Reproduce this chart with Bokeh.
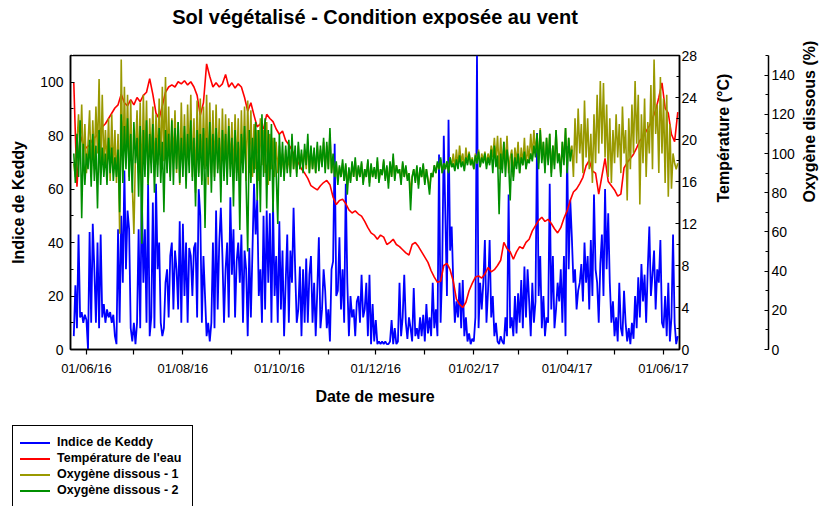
import math
from datetime import datetime
import pandas as pd
from bokeh.plotting import figure
from bokeh.layouts import column
from bokeh.models import (Range1d, LinearAxis, SingleIntervalTicker, FixedTicker,
                          DatetimeTickFormatter, Div)
from bokeh.embed import file_html
from bokeh.resources import INLINE

FONT = "Liberation Sans"

# ---------------- data ----------------
start_date = "2016-05-24"

# Indice de Keddy, daily
keddy = [
    5, 24, 8, 43, 12, 14, 10, 13, 11, 0,
    44, 10, 47, 30, 10, 40, 8, 43, 12, 17,
    10, 15, 12, 14, 10, 13, 5, 2, 45, 10,
    50, 25, 67, 30, 52, 45, 8, 3, 10, 2,
    10, 45, 8, 60, 25, 45, 10, 62, 5, 12,
    55, 8, 62, 30, 40, 10, 5, 8, 25, 30,
    12, 35, 40, 15, 37, 30, 15, 48, 10, 47,
    20, 40, 10, 38, 35, 20, 38, 40, 12, 60,
    50, 10, 35, 20, 5, 10, 3, 10, 40, 8,
    52, 15, 40, 53, 35, 10, 30, 40, 12, 57,
    28, 45, 12, 33, 40, 25, 43, 10, 37, 30,
    5, 38, 12, 37, 62, 43, 56, 20, 30, 10,
    50, 15, 52, 25, 51, 10, 55, 20, 35, 10,
    48, 15, 37, 5, 25, 43, 10, 37, 25, 53,
    30, 10, 15, 31, 5, 30, 10, 34, 10, 28,
    35, 10, 25, 5, 22, 42, 8, 15, 30, 22,
    8, 15, 3, 30, 33, 77, 20, 22, 42, 15,
    30, 10, 62, 25, 5, 20, 12, 15, 5, 18,
    20, 10, 28, 12, 15, 25, 5, 28, 2, 17,
    3, 11, 2, 3, 2, 3, 2, 3, 2, 2,
    3, 11, 2, 8, 2, 3, 25, 5, 12, 28,
    10, 4, 12, 8, 3, 23, 5, 8, 4, 12,
    5, 13, 3, 17, 6, 12, 5, 25, 8, 15,
    5, 73, 10, 30, 80, 50, 20, 86, 37, 46,
    25, 10, 18, 12, 25, 8, 26, 5, 12, 3,
    6, 2, 4, 3, 12, 110, 8, 25, 15, 25,
    41, 10, 22, 41, 12, 20, 5, 10, 3, 2,
    5, 3, 2, 12, 5, 58, 8, 12, 5, 20,
    6, 21, 10, 26, 8, 31, 12, 30, 18, 5,
    25, 10, 18, 81, 20, 35, 8, 20, 5, 12,
    10, 62, 15, 35, 8, 15, 25, 18, 30, 10,
    35, 5, 76, 30, 56, 42, 25, 30, 15, 22,
    25, 32, 18, 40, 25, 35, 15, 41, 20, 58,
    30, 25, 10, 32, 43, 20, 60, 30, 51, 25,
    10, 18, 5, 12, 3, 25, 8, 5, 22, 10,
    3, 8, 2, 10, 4, 20, 8, 27, 12, 32,
    18, 28, 10, 30, 46, 20, 28, 37, 15, 30,
    25, 41, 10, 8, 20, 5, 25, 3, 12, 43,
    10, 2, 5,
]

# Température de l'eau (°C), every 2 days
temperature = [
    25.4, 15.5, 20.5, 19.5, 19.2, 19.5, 20.0, 20.3, 20.8, 21.2,
    21.5, 22.0, 22.5, 23.0, 23.3, 24.3, 23.5, 23.2, 23.8, 23.3,
    24.0, 23.6, 24.2, 24.5, 25.8, 24.3, 22.5, 22.0, 23.2, 24.5,
    25.0, 25.2, 25.0, 25.5, 25.3, 25.6, 25.2, 25.5, 25.0, 24.2,
    22.3, 23.5, 27.2, 26.0, 25.0, 25.4, 25.0, 25.3, 26.2, 25.0,
    25.4, 24.9, 25.3, 25.0, 24.0, 22.7, 23.5, 22.3, 21.2, 21.5,
    21.0, 22.4, 22.0, 21.7, 21.0, 20.5, 20.8, 19.9, 19.5, 19.0,
    18.3, 17.8, 17.2, 16.8, 16.3, 15.6, 15.4, 15.2, 15.6, 15.9,
    16.1, 15.7, 14.5, 13.8, 14.2, 14.3, 13.9, 13.3, 13.0, 13.2,
    12.9, 12.7, 12.2, 11.6, 11.1, 10.9, 10.5, 10.9, 10.7, 10.0,
    10.2, 10.5, 10.0, 9.8, 9.5, 9.2, 9.0, 10.0, 10.2, 9.8,
    9.3, 8.8, 8.3, 7.5, 6.9, 6.4, 6.5, 8.0, 8.2, 7.6,
    6.5, 4.8, 4.3, 4.0, 4.5, 5.6, 6.3, 6.9, 7.0, 6.8,
    7.2, 7.8, 7.4, 7.6, 8.0, 8.5, 10.2, 9.6, 9.3, 8.6,
    9.3, 9.8, 9.6, 10.2, 10.5, 11.3, 11.8, 12.3, 12.6, 12.2,
    12.4, 12.0, 11.5, 11.1, 11.6, 12.5, 13.2, 14.2, 15.0, 15.3,
    15.8, 16.4, 17.5, 18.0, 17.0, 16.8, 14.8, 16.5, 18.2, 16.0,
    15.6, 15.2, 14.6, 14.8, 17.3, 17.8, 18.2, 18.6, 19.2, 19.9,
    20.2, 20.8, 21.3, 22.0, 22.8, 24.0, 25.4, 23.0, 22.5, 20.5,
    19.8, 22.6,
]

# Oxygène dissous - 1 (%), daily
oxygen_1 = [
    95, 88, 105, 120, 100, 125, 92, 115, 90, 105,
    122, 88, 117, 95, 124, 100, 138, 90, 130, 95,
    112, 92, 118, 86, 120, 90, 112, 85, 110, 59,
    148, 90, 134, 95, 130, 88, 127, 84, 59, 100,
    122, 90, 126, 80, 130, 92, 127, 85, 118, 95,
    124, 88, 120, 94, 128, 90, 134, 96, 139, 92,
    124, 88, 118, 95, 122, 90, 116, 84, 126, 92,
    120, 86, 125, 94, 130, 88, 118, 80, 127, 90,
    128, 86, 124, 92, 130, 84, 126, 90, 122, 88,
    125, 92, 118, 84, 123, 90, 120, 88, 118, 92,
    116, 86, 120, 90, 118, 84, 122, 92, 124, 86,
    127, 90, 122, 88, 115, 92, 112, 86, 118, 94,
    112, 90, 116, 84, 110, 92, 108, 88, 106, 90,
    104, 90, 100, 88, 102, 92, 98, 90, 104, 92,
    100, 90, 104, 92, 100, 94, 102, 92, 106, 90,
    102, 92, 100, 90, 104, 92, 102, 94, 106, 92,
    104, 92, 110, 90, 98, 88, 95, 86, 93, 88,
    95, 86, 94, 84, 92, 86, 95, 88, 96, 86,
    93, 88, 95, 85, 92, 88, 96, 85, 94, 88,
    92, 88, 96, 86, 92, 89, 96, 87, 93, 85,
    95, 88, 98, 87, 94, 90, 92, 86, 95, 88,
    93, 87, 90, 80, 88, 92, 86, 93, 84, 92,
    88, 94, 85, 92, 87, 82, 90, 88, 94, 90,
    95, 92, 97, 90, 95, 92, 96, 91, 98, 93,
    100, 92, 102, 93, 104, 95, 100, 92, 103, 95,
    101, 94, 98, 92, 100, 95, 102, 93, 100, 96,
    101, 94, 100, 95, 104, 98, 108, 96, 109, 92,
    108, 92, 106, 95, 109, 90, 98, 102, 88, 103,
    95, 106, 90, 103, 94, 108, 92, 104, 96, 110,
    98, 112, 100, 110, 95, 113, 97, 106, 92, 108,
    96, 110, 90, 104, 94, 112, 96, 100, 90, 106,
    96, 113, 92, 108, 98, 104, 88, 118, 95, 123,
    100, 115, 90, 127, 98, 118, 92, 110, 85, 120,
    95, 130, 100, 137, 105, 136, 98, 125, 88, 118,
    85, 112, 95, 120, 98, 115, 90, 124, 100, 112,
    76, 118, 92, 125, 100, 137, 105, 130, 74, 120,
    95, 128, 88, 116, 100, 135, 92, 148, 110, 125,
    90, 139, 100, 128, 85, 130, 78, 115, 82, 100,
    95, 92, 95,
]

# Oxygène dissous - 2 (%), daily (sensor stops early April 2017)
oxygen_2 = [
    100, 85, 110, 88, 117, 67, 105, 84, 100, 92,
    107, 83, 110, 86, 104, 72, 112, 84, 103, 88,
    100, 84, 108, 90, 103, 86, 98, 88, 102, 70,
    120, 85, 114, 92, 118, 86, 110, 80, 116, 95,
    108, 78, 114, 54, 112, 88, 117, 84, 110, 90,
    115, 80, 108, 88, 113, 85, 106, 70, 112, 90,
    110, 86, 117, 84, 113, 92, 116, 85, 108, 88,
    114, 82, 110, 90, 117, 86, 108, 73, 112, 88,
    110, 84, 113, 62, 108, 88, 116, 80, 110, 86,
    113, 90, 108, 75, 112, 86, 110, 84, 114, 88,
    108, 73, 112, 86, 106, 61, 110, 90, 114, 84,
    50, 112, 85, 108, 90, 116, 76, 112, 70, 120,
    88, 118, 72, 112, 86, 115, 70, 108, 90, 64,
    110, 88, 106, 86, 104, 90, 107, 88, 110, 92,
    104, 88, 106, 92, 102, 90, 105, 94, 110, 90,
    104, 92, 103, 90, 106, 91, 104, 93, 108, 90,
    106, 92, 113, 90, 100, 88, 96, 84, 94, 88,
    97, 86, 95, 79, 93, 85, 96, 88, 98, 86,
    94, 88, 96, 84, 92, 88, 97, 83, 95, 88,
    93, 87, 98, 85, 92, 89, 97, 86, 94, 82,
    96, 88, 100, 86, 94, 90, 92, 84, 96, 88,
    94, 86, 90, 71, 88, 92, 85, 94, 82, 93,
    88, 95, 84, 92, 86, 79, 90, 88, 94, 90,
    96, 92, 98, 90, 95, 92, 96, 90, 98, 93,
    95, 91, 97, 92, 99, 93, 96, 91, 98, 94,
    100, 94, 97, 92, 99, 95, 101, 93, 98, 95,
    100, 92, 98, 94, 102, 90, 104, 93, 99, 69,
    100, 90, 106, 88, 102, 95, 76, 100, 86, 98,
    92, 100, 90, 98, 94, 101, 92, 97, 95, 100,
    96, 104, 98, 110, 92, 112, 95, 106, 90, 108,
    94, 110, 88, 104, 92, 112, 95, 100, 88, 106,
    94, 113, 90, 108, 96, 102,
]

# axis ticks
major_tick_dates = ["2016-06-01", "2016-08-01", "2016-10-01", "2016-12-01",
                    "2017-02-01", "2017-04-01", "2017-06-01"]
minor_tick_dates = ["2016-07-01", "2016-09-01", "2016-11-01", "2017-01-01",
                    "2017-03-01", "2017-05-01"]

series_labels = ["Indice de Keddy", "Température de l'eau",
                 "Oxygène dissous - 1", "Oxygène dissous - 2"]
series_colors = ["#0000FF", "#FF0000", "#999900", "#008F00"]

# ---------------- build ----------------
days_k = pd.date_range(start_date, periods=len(keddy), freq="D")
days_t = pd.date_range(start_date, periods=len(temperature), freq="2D")
days_o1 = pd.date_range(start_date, periods=len(oxygen_1), freq="D")
days_o2 = pd.date_range(start_date, periods=len(oxygen_2), freq="D")


def ms(d):
    return int((pd.Timestamp(d) - pd.Timestamp("1970-01-01")).total_seconds() * 1000)


p = figure(width=829, height=420, x_axis_type="datetime",
           output_backend="svg", toolbar_location=None,
           x_range=Range1d(datetime(2016, 5, 21, 22), datetime(2017, 6, 11, 2)),
           y_range=Range1d(0, 110),
           min_border_left=70, min_border_right=149,
           min_border_top=55, min_border_bottom=71)
p.extra_y_ranges = {"temp": Range1d(0, 28), "oxy": Range1d(0, 150)}
p.xgrid.visible = False
p.ygrid.visible = False
p.outline_line_color = "black"
p.outline_line_width = 1.5
p.background_fill_color = "white"
p.border_fill_color = "white"

p.title.text = "Sol végétalisé - Condition exposée au vent"
p.title.align = "center"
p.title.text_font = FONT
p.title.text_font_size = "20px"
p.title.text_font_style = "bold"
p.title.text_color = "black"
p.title.standoff = 4

lw = 1.6
r_k = p.line(days_k, keddy, color=series_colors[0], line_width=1.8)
r_t = p.line(days_t, temperature, color=series_colors[1], line_width=lw, y_range_name="temp")
r_o1 = p.line(days_o1, oxygen_1, color=series_colors[2], line_width=lw, y_range_name="oxy")
r_o2 = p.line(days_o2, oxygen_2, color=series_colors[3], line_width=lw, y_range_name="oxy")


def style_axis(ax, label_size="14px"):
    ax.axis_line_color = "black"
    ax.axis_line_width = 1.5
    ax.major_tick_line_color = "black"
    ax.minor_tick_line_color = "black"
    ax.major_tick_line_width = 1.2
    ax.minor_tick_line_width = 1.2
    ax.major_label_text_font = FONT
    ax.major_label_text_font_size = label_size
    ax.major_label_text_color = "black"
    ax.axis_label_text_font = FONT
    ax.axis_label_text_font_size = "16px"
    ax.axis_label_text_font_style = "bold"
    ax.axis_label_text_color = "black"


def spacer_axis(extent, tick_value, **kw):
    # an axis that draws nothing visible: one white tick, empty label
    ax = LinearAxis(ticker=FixedTicker(ticks=[tick_value], minor_ticks=[]),
                    major_label_overrides={tick_value: ""}, **kw)
    ax.axis_line_color = None
    ax.major_tick_line_color = "white"
    ax.minor_tick_line_color = None
    ax.major_tick_in = 0
    ax.major_tick_out = extent
    ax.major_label_standoff = 0
    ax.major_label_text_font_size = "0px"
    return ax


# x axis (below)
xa = p.below[0]
style_axis(xa, "13px")
xa.ticker = FixedTicker(ticks=[ms(d) for d in major_tick_dates],
                        minor_ticks=[ms(d) for d in minor_tick_dates])
fmt = "%d/%m/%y"
xa.formatter = DatetimeTickFormatter(milliseconds=fmt, seconds=fmt, minsec=fmt, minutes=fmt,
                                     hourmin=fmt, hours=fmt, days=fmt, months=fmt, years=fmt)
xa.major_tick_in = 0
xa.major_tick_out = 5
xa.minor_tick_in = 0
xa.minor_tick_out = 5
xa.major_label_standoff = 6
xa.axis_label = "Date de mesure"
xa.axis_label_standoff = 9

# spacer above the frame so that the title sits at the top of the page
p.add_layout(spacer_axis(26, ms("2016-05-23")), "above")

# left axis
ya = p.left[0]
style_axis(ya)
ya.ticker = SingleIntervalTicker(interval=20, num_minor_ticks=2)
ya.major_tick_in = 4
ya.major_tick_out = 0
ya.minor_tick_in = 3
ya.minor_tick_out = 0
ya.major_label_standoff = 7
ya.axis_label = "Indice de Keddy"
ya.axis_label_standoff = 10

# temperature axis
ta = LinearAxis(y_range_name="temp", axis_label="Température (°C)",
                ticker=SingleIntervalTicker(interval=4, num_minor_ticks=2))
style_axis(ta)
ta.major_tick_in = 4
ta.major_tick_out = 0
ta.minor_tick_in = 3
ta.minor_tick_out = 0
ta.major_label_standoff = 2
ta.axis_label_standoff = 23
ta.axis_label_orientation = math.pi / 2
p.add_layout(ta, "right")

# spacer between the two right axes
p.add_layout(spacer_axis(25, 1, y_range_name="temp"), "right")

# oxygen axis
oa = LinearAxis(y_range_name="oxy", axis_label="Oxygène dissous (%)",
                ticker=SingleIntervalTicker(interval=20, num_minor_ticks=2))
style_axis(oa)
oa.major_tick_in = 4
oa.major_tick_out = 0
oa.minor_tick_in = 3
oa.minor_tick_out = 0
oa.major_label_standoff = 3
oa.axis_label_standoff = 12
oa.axis_label_orientation = math.pi / 2
p.add_layout(oa, "right")

# legend box under the chart
rows = "".join(
    '<div style="height:16px;line-height:16px;white-space:nowrap;">'
    '<span style="display:inline-block;width:30px;height:2px;background:%s;'
    'vertical-align:middle;margin-right:7px;"></span>%s</div>' % (c, lab)
    for c, lab in zip(series_colors, series_labels))
legend_html = (
    '<div style="margin:5px 0 0 12px;width:181px;height:92px;box-sizing:border-box;'
    'border:1px solid black;background:white;padding:8px 0 0 7px;'
    "font-family:'Liberation Sans',Arial,sans-serif;font-weight:bold;font-size:12.5px;"
    'color:black;">%s</div>' % rows)
legend_div = Div(text=legend_html, width=829, height=86, margin=0)

layout = column(p, legend_div, spacing=0)
open("out.html", "w").write(file_html(layout, INLINE))
